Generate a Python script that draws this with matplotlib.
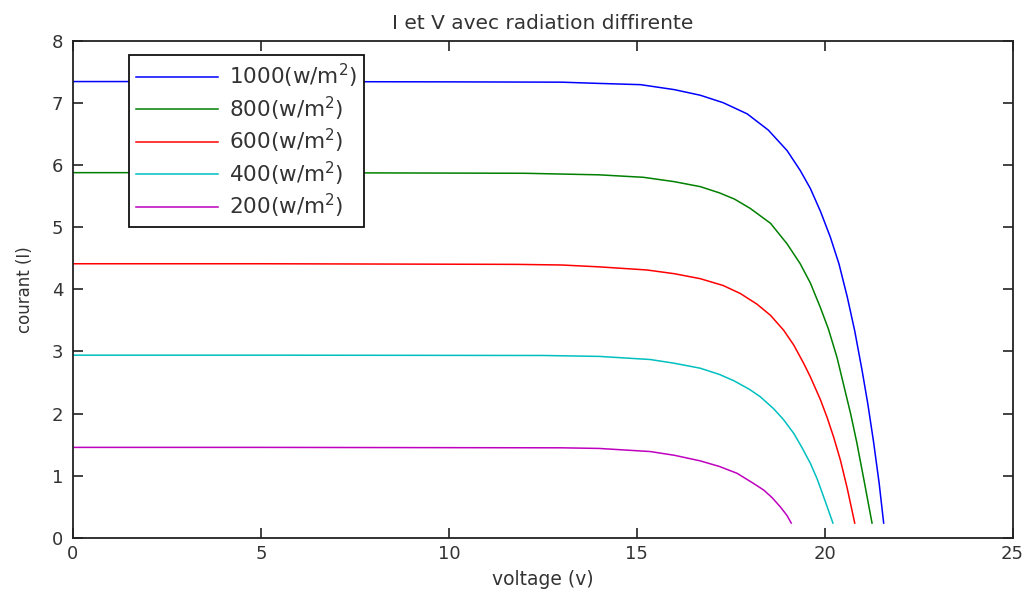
import matplotlib
matplotlib.use("Agg")
import matplotlib.pyplot as plt

plt.rcParams['font.family'] = ['DejaVu Sans']
plt.rcParams['mathtext.default'] = 'regular'

# Data (voltage V, current A)
v_1000 = [0, 5, 10, 13.0, 14.0, 15.1, 16.0, 16.69, 17.3, 17.94, 18.5, 19.0, 19.35, 19.62, 19.89,
          20.15, 20.38, 20.6, 20.8, 21.0, 21.15, 21.3, 21.45, 21.57]
i_1000 = [7.34, 7.34, 7.335, 7.33, 7.31, 7.29, 7.21, 7.12, 7.00, 6.82, 6.56, 6.23, 5.91, 5.62, 5.25,
          4.84, 4.41, 3.88, 3.33, 2.68, 2.15, 1.55, 0.88, 0.24]

v_800 = [0, 5, 8.7, 12.0, 14.0, 15.18, 16.0, 16.69, 17.2, 17.6, 18.02, 18.56, 19.0, 19.35, 19.62,
         19.89, 20.1, 20.33, 20.51, 20.69, 20.85, 21.04, 21.26]
i_800 = [5.875, 5.875, 5.87, 5.865, 5.84, 5.80, 5.73, 5.65, 5.55, 5.45, 5.30, 5.06, 4.73, 4.41, 4.10,
         3.70, 3.36, 2.90, 2.45, 2.00, 1.55, 0.95, 0.24]

v_600 = [0, 5, 11.8, 13.0, 14.0, 15.27, 16.0, 16.69, 17.3, 17.76, 18.2, 18.56, 18.91, 19.18, 19.44,
         19.62, 19.89, 20.07, 20.24, 20.42, 20.6, 20.80]
i_600 = [4.41, 4.41, 4.40, 4.39, 4.36, 4.31, 4.25, 4.17, 4.06, 3.93, 3.76, 3.58, 3.34, 3.10, 2.81,
         2.59, 2.22, 1.93, 1.62, 1.25, 0.80, 0.24]

v_400 = [0, 5, 12.5, 14.0, 15.36, 16.0, 16.69, 17.2, 17.58, 18.0, 18.29, 18.64, 18.91, 19.18, 19.40,
         19.62, 19.80, 19.98, 20.22]
i_400 = [2.94, 2.94, 2.935, 2.92, 2.87, 2.81, 2.73, 2.63, 2.53, 2.39, 2.27, 2.08, 1.90, 1.68, 1.45,
         1.20, 0.95, 0.65, 0.24]

v_200 = [0, 5, 13.0, 14.0, 15.36, 16.0, 16.69, 17.2, 17.67, 18.1, 18.38, 18.6, 18.82, 19.0, 19.11]
i_200 = [1.457, 1.457, 1.45, 1.44, 1.39, 1.33, 1.24, 1.15, 1.04, 0.88, 0.77, 0.65, 0.50, 0.36, 0.24]

labels = ['1000(w/m$^2$)', '800(w/m$^2$)', '600(w/m$^2$)', '400(w/m$^2$)', '200(w/m$^2$)']
colors = ['#0000ff', '#008000', '#ff0000', '#00bfbf', '#bf00bf']
x_ticks = [0, 5, 10, 15, 20, 25]
y_ticks = [0, 1, 2, 3, 4, 5, 6, 7, 8]

fig = plt.figure(figsize=(10.28, 5.94), dpi=100)
ax = fig.add_axes([0.071, 0.0943, 0.914, 0.8375])

series = [(v_1000, i_1000), (v_800, i_800), (v_600, i_600), (v_400, i_400), (v_200, i_200)]
for (v, i), lab, col in zip(series, labels, colors):
    ax.plot(v, i, color=col, lw=1.1, label=lab)

ax.set_xlim(0, 25)
ax.set_ylim(0, 8)
ax.set_xticks(x_ticks)
ax.set_yticks(y_ticks)
ax.tick_params(direction='in', length=7, width=1.2, top=True, right=True, labelsize=13,
               pad=5, colors='#222222', labelcolor='#333333')
ax.tick_params(axis='y', pad=7)
for s in ax.spines.values():
    s.set_linewidth(1.3)
    s.set_color('#222222')

ax.set_title('I et V avec radiation diffirente', fontsize=14.5, color='#333333', pad=8)
ax.set_xlabel('voltage (v)', fontsize=13.5, color='#333333', labelpad=5)
ax.set_ylabel('courant (I)', fontsize=12, color='#333333')
ax.yaxis.set_label_coords(-0.042, 0.5)

leg = ax.legend(loc='upper left', bbox_to_anchor=(0.060, 0.971), borderaxespad=0,
                fancybox=False, frameon=True, fontsize=15.5, handlelength=3.8,
                handletextpad=0.5, labelspacing=0.2, borderpad=0.32)
leg.get_frame().set_edgecolor('#111111')
leg.get_frame().set_linewidth(1.3)
leg.get_frame().set_alpha(1)
for t in leg.get_texts():
    t.set_color('#333333')

fig.savefig('out.png', dpi=100)
